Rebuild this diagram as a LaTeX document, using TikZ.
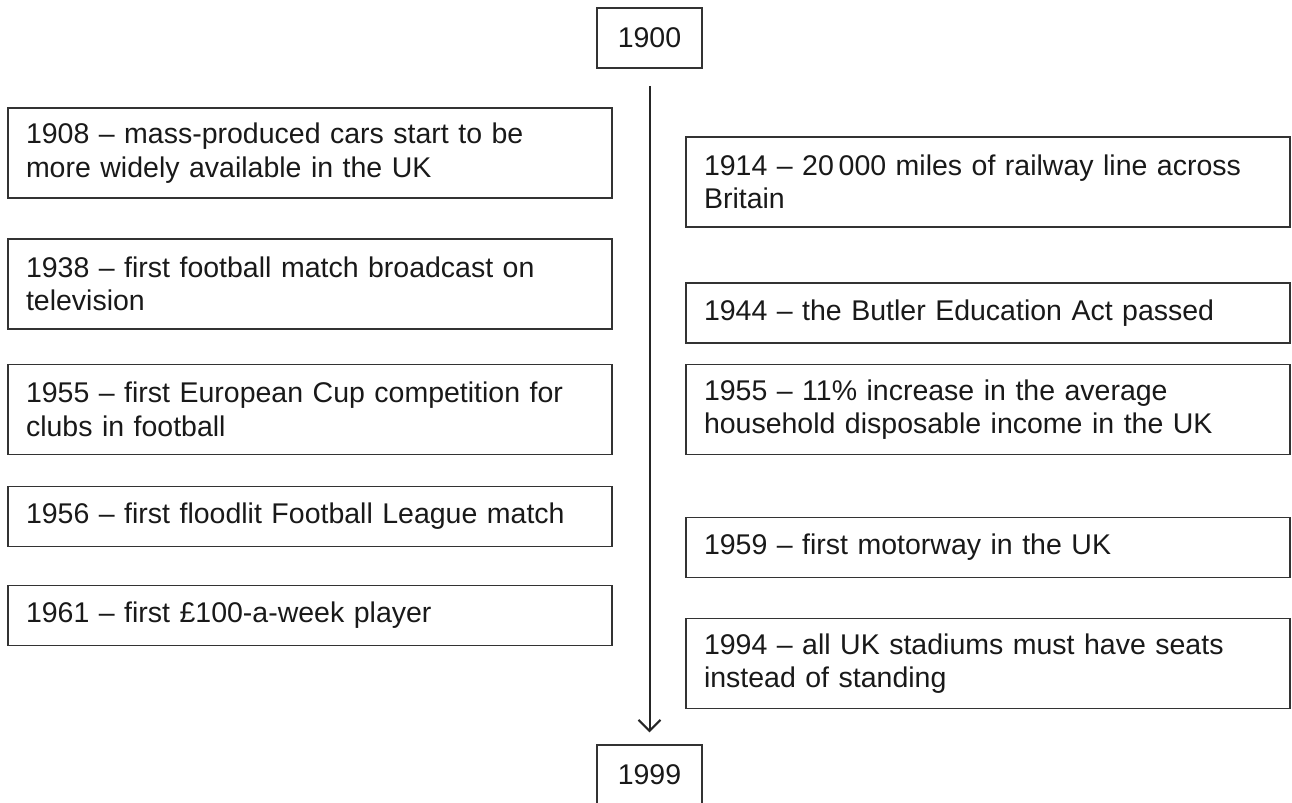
\documentclass[tikz,border=0pt]{standalone}
\usepackage{fontspec}
\setmainfont{Liberation Sans}
\usetikzlibrary{arrows.meta}

\begin{document}
\begin{tikzpicture}[x=0.5pt,y=-0.5pt,
	boxfont/.style={font=\fontsize{14.25pt}{16.75pt}\selectfont,text=black!90},
	evbox/.style={draw=black!80,line width=0.75pt,boxfont,inner xsep=9pt,inner ysep=0pt,
		text width=284pt,align=left,minimum height=45pt},
	onebox/.style={evbox,minimum height=30pt},
	yearbox/.style={draw=black!80,line width=0.75pt,boxfont,inner sep=0pt,
		minimum width=52.5pt,minimum height=30pt},
	timeline/.style={draw=black!85,line width=1pt,-{Straight Barb[length=5.5pt,width=11pt]},
		shorten <=8.5pt,shorten >=6pt}]
		\useasboundingbox (0,0) rectangle (1292,803);
		\clip (0,0) rectangle (1292,803);
		\node[yearbox] (yr1900) at (649.5,38) {1900};
		\node[yearbox] (yr1999) at (649.5,775) {1999};
		\draw[timeline] (yr1900.south) -- (yr1999.north);
		
		\node[evbox] (l1908) at (310,153) {1908 -- mass-produced cars start to be\\more widely available in the UK};
		\node[evbox] (l1938) at (310,284) {1938 -- first football match broadcast on\\television};
		\node[evbox] (l1955) at (310,409.5) {1955 -- first European Cup competition for\\clubs in football};
		\node[onebox] (l1956) at (310,516.5) {1956 -- first floodlit Football League match};
		\node[onebox] (l1961) at (310,615.5) {1961 -- first \pounds100-a-week player};
		
		\node[evbox] (r1914) at (988,182) {1914 -- 20\,000 miles of railway line across\\Britain};
		\node[onebox] (r1944) at (988,313) {1944 -- the Butler Education Act passed};
		\node[evbox] (r1955) at (988,409.5) {1955 -- 11\% increase in the average\\household disposable income in the UK};
		\node[onebox] (r1959) at (988,547.5) {1959 -- first motorway in the UK};
		\node[evbox] (r1994) at (988,663.5) {1994 -- all UK stadiums must have seats\\instead of standing};
	\end{tikzpicture}
\end{document}
